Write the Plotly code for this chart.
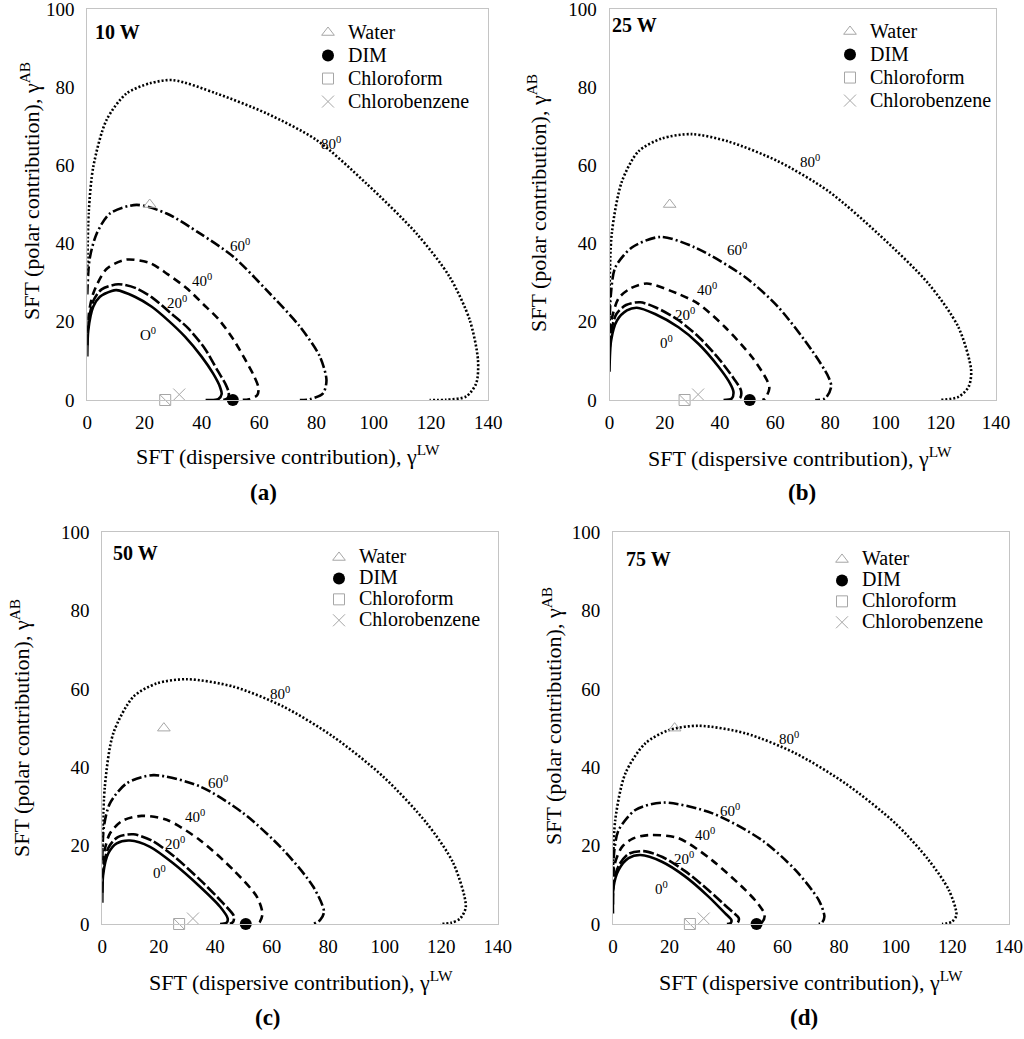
import plotly.graph_objects as go

# contact angles of the wetting envelopes (deg)
angles = [0, 20, 40, 60, 80]

# --- 10 W envelopes, one list per angle ---
env10_x = [
    [0, 0.35, 2.1, 4.4, 8.5, 10.2, 16.6, 22.4, 28.3, 34.1, 39.9, 43.9, 46.3, 46.9, 45.7, 41.3],
    [0, 0.4, 2.2, 5, 10.8, 17, 23, 29, 35, 41, 45.5, 48.3, 49.4, 49, 47.5],
    [0, 0.5, 2.1, 6.7, 13.5, 21.9, 28, 34.5, 40.5, 46, 51, 55, 58.3, 59.8, 59.3, 56.5, 52.7],
    [0, 0.8, 3.3, 7.9, 17.2, 27.7, 39.3, 50.9, 62.6, 74.2, 81.2, 83.5, 82.3, 77.7, 74.2],
    [0, 0.5, 2.1, 6.7, 13.7, 21.9, 30, 45.1, 62.6, 80, 97.4, 114.9, 126.5, 133.5, 136.4, 135.8, 132.3, 125.3, 119.5],
]
env10_y = [
    [11.1, 17.9, 23.9, 26.4, 27.9, 28.1, 26.4, 23.9, 20.3, 16.2, 11.1, 6.8, 3.4, 1.5, 0.2, 0],
    [14, 20, 25.5, 28.3, 29.6, 28.6, 26, 22.3, 18.5, 13.2, 7.5, 4, 1.8, 0.5, 0],
    [17, 22, 27.3, 33.5, 35.9, 35, 32.2, 28.7, 24.5, 20.5, 15.5, 10.5, 6, 3, 1.2, 0.2, 0],
    [27, 36, 42.6, 47.7, 49.9, 47.7, 42.6, 36.7, 28.1, 18.8, 11.1, 5.1, 1.7, 0.2, 0],
    [32, 48, 59.7, 71.6, 78.4, 81, 81.8, 78.4, 73.3, 66.5, 55.4, 42.6, 31.5, 20.5, 10.2, 4.3, 0.9, 0.05, 0],
]

# --- 25 W ---
env25_x = [
    [0, 0.6, 2.7, 6.3, 9.9, 16.5, 25, 32.2, 39.5, 43.7, 44.9, 44.3, 41.3],
    [0, 0.5, 2.5, 6, 11.1, 17, 25, 32.5, 40, 45, 47.6, 47.4, 46.3],
    [0, 0.6, 3.3, 7.5, 13.5, 25, 32.2, 41.9, 51.6, 57, 57.9, 56.4, 55.4],
    [0, 0.5, 2.1, 8.1, 18.4, 31, 49.2, 61.2, 73.3, 79.3, 80.3, 78.1, 74.5],
    [0, 0.8, 4.5, 10.5, 19, 29.8, 43.1, 61.2, 79.3, 97.5, 115.6, 126.4, 131, 130.1, 126.4, 119.8],
]
env25_y = [
    [7.2, 15.3, 20.3, 22.9, 23.6, 22, 18.6, 14.4, 8.5, 4.2, 2.1, 0.4, 0],
    [10, 17, 22, 24.3, 25, 23.6, 20.4, 16, 10.2, 5.5, 2.5, 0.6, 0],
    [14, 20, 26, 28.5, 29.8, 27.1, 24.6, 18.6, 11, 5.1, 3, 0.4, 0],
    [17, 27, 33.9, 39, 41.7, 39, 31.4, 23.7, 12.7, 5.9, 3.4, 0.4, 0],
    [21, 42.4, 55.9, 63.6, 66.9, 68, 66.1, 61, 53.4, 42.4, 29.7, 18.6, 7.6, 3.4, 0.8, 0],
]

# --- 50 W ---
env50_x = [
    [0, 0.35, 2.1, 5.1, 9.8, 16.9, 25.1, 34.6, 41.7, 44.4, 44, 41.7],
    [0, 0.4, 2.2, 5.5, 11, 17.5, 25.5, 35, 42.5, 46.6, 46.3, 45.2],
    [0, 0.6, 2.7, 7, 13.9, 22.8, 34.6, 46.4, 54.7, 56.7, 55.8, 54.7],
    [0, 0.6, 2.7, 8.6, 18.1, 34.6, 49.9, 64.1, 74.7, 78.5, 77.1, 74.7],
    [0, 0.9, 3.9, 11, 19.2, 29.9, 46.4, 64.1, 81.8, 99.5, 114.9, 124.3, 128.7, 126.7, 123.5, 119.6],
]
env50_y = [
    [5.4, 12.9, 18, 20.6, 21.3, 19.7, 15.5, 9.5, 4.4, 1.4, 0.3, 0],
    [8, 14.5, 19.5, 22.2, 22.9, 21.3, 17.2, 11, 5.5, 2.0, 0.5, 0],
    [12, 18, 23.1, 26.3, 27.6, 26.6, 21.4, 13.8, 7, 2.7, 0.6, 0],
    [16.3, 25, 30.8, 35.9, 38, 35.1, 28.3, 18.9, 9.5, 3.1, 1, 0],
    [18.9, 35.1, 48.7, 58, 61.4, 62.5, 60.6, 55.5, 47.8, 37.6, 25.7, 15.5, 4.4, 1.4, 0.3, 0],
]

# --- 75 W ---
env75_x = [
    [0, 0.2, 2, 5.5, 9.7, 17.3, 25.6, 33.8, 39.7, 41.9, 41.6, 40.3],
    [0, 0.3, 2.1, 5.5, 10.8, 17.5, 25.5, 34, 40.5, 44.5, 44.2, 43.6],
    [0, 0.5, 3.2, 7, 12.6, 23.2, 35, 46.8, 51.5, 53.7, 52.7, 51.5],
    [0, 0.5, 2, 7.9, 17.9, 35, 52.7, 64.5, 72.8, 74.8, 74, 72.8],
    [0, 0.8, 4.4, 11.4, 19.7, 30.3, 46.8, 64.5, 82.2, 99.9, 111.7, 118.8, 121.5, 119.9, 116.4],
]
env75_y = [
    [2.7, 9.5, 13.8, 16.8, 17.6, 15.9, 12.1, 7, 2.7, 1, 0.2, 0],
    [5, 11, 15, 17.9, 18.6, 17.1, 13.5, 8.5, 4.2, 1.5, 0.4, 0],
    [9, 15, 19.7, 21.8, 22.7, 21.9, 16.3, 8.7, 5, 2.3, 0.4, 0],
    [12.1, 19, 24, 29.1, 31, 28.3, 21.4, 13.8, 6.1, 1.9, 0.4, 0],
    [12.9, 26.6, 38.5, 46.1, 49.5, 50.6, 48.7, 43.6, 35.9, 25.7, 16.3, 8.7, 2.3, 0.6, 0],
]

# angle label positions per panel (0, 20, 40, 60, 80)
lab10_x = [21.3, 31.2, 39.9, 53.3, 85.2]
lab10_y = [17, 25.1, 30.7, 39.6, 65.6]
lab25_x = [20.8, 27.4, 35.3, 46.1, 72.7]
lab25_y = [14.8, 22, 28.4, 38.6, 61]
lab50_x = [20.2, 25.7, 32.8, 41.1, 62.9]
lab50_y = [13.4, 20.8, 27.6, 36.3, 58.9]
lab75_x = [17.3, 25, 32.7, 41.5, 62.1]
lab75_y = [9.1, 16.8, 23.1, 29.1, 47.4]

# probe liquids: (gamma LW, gamma AB)
liquids = ["Water", "DIM", "Chloroform", "Chlorobenzene"]
liq_x = [21.8, 50.8, 27.2, 32.1]
liq_y = [50, 0, 0, 1.4]

powers = ["10 W", "25 W", "50 W", "75 W"]
letters = ["a", "b", "c", "d"]

FONT = "Liberation Serif"
GREY = "#a6a6a6"
dashes = ["solid", "11px,3px", "8px,5px", "10px,3px,2px,3px", "2px,2px"]

panels = [
    dict(env_x=env10_x, env_y=env10_y, lab_x=lab10_x, lab_y=lab10_y,
         dom_x=[87.3, 488.3], dom_y=[9, 400], legend=(308, 16), leg_size=15.4,
         title=(0.014, 0.941), xt=(288, 455), yt=(30, 191), sub=(263, 493)),
    dict(env_x=env25_x, env_y=env25_y, lab_x=lab25_x, lab_y=lab25_y,
         dom_x=[609.5, 996], dom_y=[9, 400], legend=(830, 15), leg_size=15.4,
         title=(0.002, 0.959), xt=(800, 457), yt=(537, 203), sub=(802, 493)),
    dict(env_x=env50_x, env_y=env50_y, lab_x=lab50_x, lab_y=lab50_y,
         dom_x=[102.3, 497.7], dom_y=[532.3, 924], legend=(319, 542), leg_size=13.8,
         title=(0.022, 0.946), xt=(301, 981), yt=(20, 728), sub=(268, 1017)),
    dict(env_x=env75_x, env_y=env75_y, lab_x=lab75_x, lab_y=lab75_y,
         dom_x=[613, 1008.7], dom_y=[532.3, 924], legend=(822, 544), leg_size=13.8,
         title=(0.028, 0.931), xt=(811, 981), yt=(552, 716), sub=(804, 1017)),
]

W, H = 1024, 1039
fig = go.Figure()
annotations = []
layout = {}

for i, p in enumerate(panels):
    n = "" if i == 0 else str(i + 1)
    xa, ya = "x" + n, "y" + n
    lg = "legend" + n

    for k, ang in enumerate(angles):
        fig.add_trace(go.Scatter(
            x=p["env_x"][k], y=p["env_y"][k], mode="lines",
            line=dict(color="black", width=2.6, dash=dashes[k], shape="spline", smoothing=0.8),
            xaxis=xa, yaxis=ya, showlegend=False, hoverinfo="skip"))
        txt = ("O" if (i == 0 and ang == 0) else str(ang)) + "<sup>0</sup>"
        annotations.append(dict(x=p["lab_x"][k], y=p["lab_y"][k], xref=xa, yref=ya,
                                xanchor="center", yanchor="middle",
                                text=txt, showarrow=False,
                                font=dict(family=FONT, size=15, color="black")))

    styles = [
        dict(symbol="triangle-up-open", size=11, color=GREY, line=dict(color=GREY, width=1)),
        dict(symbol="circle", size=12, color="black"),
        dict(symbol="square-open", size=11, color=GREY, line=dict(color=GREY, width=1)),
        dict(symbol="x-thin-open", size=12, color=GREY, line=dict(color=GREY, width=1)),
    ]
    for j, name in enumerate(liquids):
        # legend text drawn larger than the legend's row spacing font
        fig.add_trace(go.Scatter(
            x=[liq_x[j]], y=[liq_y[j]], mode="markers",
            name='<span style="font-size:20px">' + name + "</span>", marker=styles[j],
            xaxis=xa, yaxis=ya, legend=lg, cliponaxis=False))
    # diagonal stroke inside the chloroform square
    fig.add_trace(go.Scatter(
        x=[liq_x[2]], y=[liq_y[2]], mode="markers",
        marker=dict(symbol="line-nw", size=10, line=dict(color=GREY, width=1)),
        xaxis=xa, yaxis=ya, showlegend=False, cliponaxis=False))

    axis_common = dict(showline=True, mirror=True, linecolor="#c4c4c4", linewidth=1,
                       showgrid=False, zeroline=False, ticks="", automargin=False,
                       ticklabeloverflow="allow",
                       tickfont=dict(family=FONT, size=19, color="black"))
    layout["xaxis" + n] = dict(axis_common, domain=[p["dom_x"][0] / W, p["dom_x"][1] / W],
                               range=[0, 140], tickvals=list(range(0, 141, 20)),
                               anchor=ya, ticklabelstandoff=5)
    layout["yaxis" + n] = dict(axis_common, domain=[1 - p["dom_y"][1] / H, 1 - p["dom_y"][0] / H],
                               range=[0, 100], tickvals=list(range(0, 101, 20)),
                               anchor=xa, ticklabelstandoff=8)
    layout[lg] = dict(x=p["legend"][0] / W, y=1 - p["legend"][1] / H,
                      xanchor="left", yanchor="top", bgcolor="rgba(0,0,0,0)",
                      font=dict(family=FONT, size=p["leg_size"], color="black"))

    annotations.append(dict(x=p["title"][0], y=p["title"][1], xref=xa + " domain", yref=ya + " domain",
                            xanchor="left", yanchor="middle", showarrow=False,
                            text="<b>" + powers[i] + "</b>",
                            font=dict(family=FONT, size=20, color="black")))
    annotations.append(dict(x=p["xt"][0] / W, y=1 - p["xt"][1] / H, xref="paper", yref="paper",
                            xanchor="center", yanchor="middle",
                            showarrow=False, text="SFT (dispersive contribution), γ<sup>LW</sup>",
                            font=dict(family=FONT, size=22, color="black")))
    annotations.append(dict(x=p["yt"][0] / W, y=1 - p["yt"][1] / H, xref="paper", yref="paper",
                            xanchor="center", yanchor="middle",
                            showarrow=False, textangle=-90,
                            text="SFT (polar contribution), γ<sup>AB</sup>",
                            font=dict(family=FONT, size=22, color="black")))
    annotations.append(dict(x=p["sub"][0] / W, y=1 - p["sub"][1] / H, xref="paper", yref="paper",
                            xanchor="center", yanchor="middle",
                            showarrow=False, text="<b>(" + letters[i] + ")</b>",
                            font=dict(family=FONT, size=23, color="black")))

fig.update_layout(width=W, height=H, margin=dict(l=0, r=0, t=0, b=0),
                  paper_bgcolor="white", plot_bgcolor="white",
                  annotations=annotations, **layout)

# drop the page's default body margin so the figure fills the window
fig.write_html("out.html", config={"displayModeBar": False},
               post_script="document.body.style.margin='0';")
